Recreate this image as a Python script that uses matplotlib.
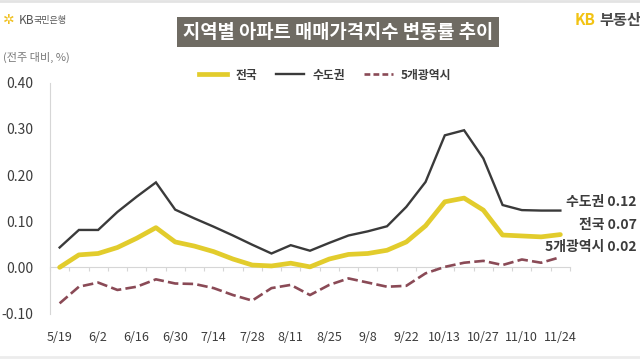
import matplotlib
matplotlib.use("Agg")
import matplotlib.pyplot as plt
from matplotlib.lines import Line2D
import numpy as np

plt.rcParams['font.family'] = ['Noto Sans CJK KR', 'DejaVu Sans']
plt.rcParams['axes.unicode_minus'] = False

# 주간 날짜 (라벨은 격주로만 표시)
weeks = ["5/19", "5/26", "6/2", "6/9", "6/16", "6/23", "6/30", "7/7", "7/14",
         "7/21", "7/28", "8/4", "8/11", "8/18", "8/25", "9/1", "9/8", "9/15",
         "9/22", "9/29", "10/13", "10/20", "10/27", "11/3", "11/10", "11/17", "11/24"]

national = [0.000, 0.027, 0.030, 0.043, 0.063, 0.086, 0.055, 0.046, 0.034,
            0.018, 0.005, 0.003, 0.009, 0.001, 0.018, 0.028, 0.030, 0.037,
            0.055, 0.090, 0.142, 0.150, 0.124, 0.070, 0.068, 0.066, 0.071]
capital = [0.043, 0.081, 0.081, 0.120, 0.153, 0.184, 0.125, 0.106, 0.088,
           0.069, 0.049, 0.030, 0.048, 0.036, 0.053, 0.069, 0.078, 0.089,
           0.131, 0.185, 0.286, 0.297, 0.236, 0.135, 0.124, 0.123, 0.123]
metro5 = [-0.078, -0.042, -0.033, -0.049, -0.042, -0.026, -0.035, -0.036, -0.045,
          -0.060, -0.072, -0.045, -0.038, -0.060, -0.038, -0.024, -0.033, -0.042,
          -0.040, -0.013, 0.001, 0.010, 0.014, 0.005, 0.017, 0.010, 0.022]

yticks = [-0.10, 0.00, 0.10, 0.20, 0.30, 0.40]
end_labels = ["수도권 0.12", "전국 0.07", "5개광역시 0.02"]

c_nat = "#e2cc2c"
c_cap = "#3a3a3a"
c_met = "#8a4a56"
c_axis = "#d6d6d6"
c_text = "#3c3c3c"

fig = plt.figure(figsize=(6.4, 3.6), dpi=100)
ax = fig.add_axes([50 / 640, 1 - 313.5 / 360, 520 / 640, (313.5 - 82.7) / 360])

x = np.arange(len(weeks))
ax.plot(x, national, color=c_nat, lw=3.4, solid_capstyle="round", solid_joinstyle="round", zorder=3)
ax.plot(x, capital, color=c_cap, lw=1.7, solid_joinstyle="miter", zorder=4)
ax.plot(x, metro5, color=c_met, lw=1.9, dashes=(4, 1.6), zorder=3)

ax.set_xlim(-0.5, len(weeks) - 0.5)
ax.set_ylim(-0.10, 0.40)

for s in ["top", "right"]:
    ax.spines[s].set_visible(False)
ax.spines["left"].set_color(c_axis)
ax.spines["bottom"].set_color(c_axis)
ax.spines["bottom"].set_position(("data", 0))

ax.set_yticks(yticks)
ax.set_yticklabels(["%.2f" % v for v in yticks])
ax.tick_params(axis="y", length=0, pad=12, labelsize=10, labelcolor=c_text)

ax.set_xticks(x[::2])
ax.set_xticklabels(weeks[::2])
ax.set_xticks(np.arange(len(weeks) + 1) - 0.5, minor=True)
ax.tick_params(axis="x", which="major", length=0, pad=46, labelsize=9, labelcolor=c_text)
ax.tick_params(axis="x", which="minor", length=3, width=0.8, color=c_axis, direction="out")

# 끝값 표시
for lab, ypx in zip(end_labels, [202, 225, 247]):
    fig.text(637 / 640, 1 - ypx / 360, lab, fontsize=10, fontweight="bold",
             color=c_text, ha="right", va="center")

# 범례
handles = [Line2D([], [], color=c_nat, lw=3.4),
           Line2D([], [], color=c_cap, lw=1.7),
           Line2D([], [], color=c_met, lw=1.9, dashes=(2.2, 1.2))]
leg = fig.legend(handles, ["전국", "수도권", "5개광역시"], loc="center left",
                 bbox_to_anchor=(193 / 640, 1 - 75 / 360), ncol=3, frameon=False,
                 handlelength=2.4, handletextpad=0.7, columnspacing=1.6, borderpad=0,
                 prop={"size": 8.5, "weight": "bold"})
for t in leg.get_texts():
    t.set_color(c_text)

# 제목
fig.text(338 / 640, 1 - 32 / 360, "지역별 아파트 매매가격지수 변동률 추이", fontsize=13.5,
         fontweight="bold", color="white", ha="center", va="center",
         bbox=dict(boxstyle="square,pad=0.3", fc="#6f6b63", ec="none"))

# 로고와 단위
fig.text(3 / 640, 1 - 20 / 360, "✲", fontsize=10, color="#f0c020", ha="left", va="center",
         family="DejaVu Sans")
fig.text(19 / 640, 1 - 20 / 360, "KB", fontsize=8.5, color="#555555", ha="left", va="center")
fig.text(34 / 640, 1 - 20 / 360, "국민은행", fontsize=6.5, color="#555555", ha="left", va="center")
fig.text(3 / 640, 1 - 57 / 360, "(전주 대비, %)", fontsize=8, color="#777777", ha="left", va="center")
fig.text(575 / 640, 1 - 20 / 360, "KB", fontsize=11, fontweight="bold", color="#f2c313",
         ha="left", va="center")
fig.text(599 / 640, 1 - 20 / 360, "부동산", fontsize=11, fontweight="bold", color="#4a4a4a",
         ha="left", va="center")

fig.add_artist(Line2D([0, 1], [0.997, 0.997], transform=fig.transFigure, color="#e3e3e3", lw=2))
fig.add_artist(Line2D([0, 1], [0.008, 0.008], transform=fig.transFigure, color="#ececec", lw=2))

fig.savefig("out.png", dpi=100)
